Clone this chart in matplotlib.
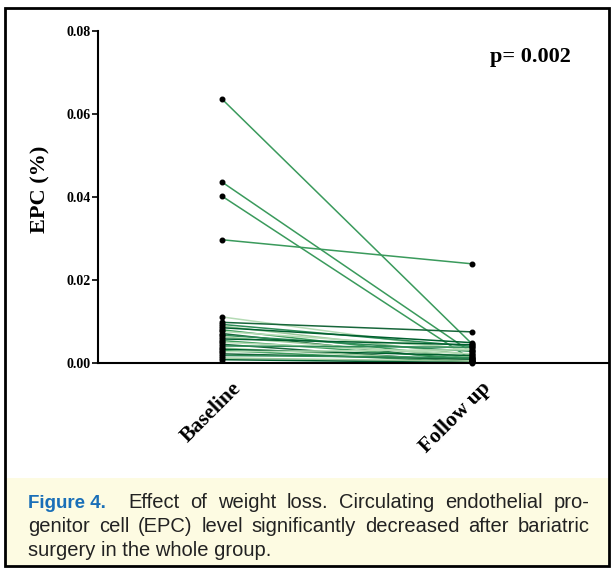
import matplotlib.pyplot as plt
from matplotlib.patches import Rectangle
from matplotlib.transforms import ScaledTranslation

# EPC values, one pair per patient
groups = ['Baseline', 'Follow up']
baseline = [0.0636, 0.0436, 0.0402, 0.0297, 0.0111, 0.0098, 0.0093, 0.0089,
            0.0085, 0.0080, 0.0076, 0.0071, 0.0067, 0.0063, 0.0058, 0.0054,
            0.0050, 0.0045, 0.0041, 0.0036, 0.0033, 0.0030, 0.0027, 0.0022,
            0.0018, 0.0012, 0.0008]
followup = [0.0046, 0.0025, 0.0008, 0.0239, 0.0030, 0.0075, 0.0040, 0.0020,
            0.0049, 0.0012, 0.0035, 0.0005, 0.0028, 0.0015, 0.0044, 0.0010,
            0.0022, 0.0003, 0.0038, 0.0006, 0.0018, 0.0002, 0.0032, 0.0009,
            0.0013, 0.0004, 0.0001]
yticks = [0.00, 0.02, 0.04, 0.06, 0.08]
greens = ['#2e8b57', '#9cc99c', '#005f2e', '#3d9c5c', '#b5dbb5', '#17663a']

caption_lines = [
    'Effect of weight loss. Circulating endothelial pro-',
    'genitor cell (EPC) level significantly decreased after bariatric',
    'surgery in the whole group.',
]

W, H = 613, 569
fig = plt.figure(figsize=(W / 100, H / 100), dpi=100)
renderer = fig.canvas.get_renderer()

# outer frame and cream caption box
fig.patches.append(Rectangle((5 / W, 3 / H), 604 / W, 558 / H, transform=fig.transFigure,
                             fill=False, edgecolor='black', linewidth=2))
fig.patches.append(Rectangle((6 / W, 4 / H), 602 / W, (569 - 478 - 4) / H,
                             transform=fig.transFigure, facecolor='#fdfbe2',
                             edgecolor='none', zorder=-1))

x0, x1 = 222, 472
ax = fig.add_axes([98 / W, (H - 363) / H, (608 - 98) / W, (363 - 31) / H])
ax.set_xlim(-(x0 - 98) / (x1 - x0), (608 - x0) / (x1 - x0))
ax.set_ylim(0, 0.08)

for i, (b, f) in enumerate(zip(baseline, followup)):
    c = '#3a9a5c' if b > 0.02 else greens[i % len(greens)]
    ax.plot([0, 1], [b, f], color=c, linewidth=1.1, zorder=2, clip_on=False)
ax.plot([0] * len(baseline), baseline, 'o', color='black', markersize=3.3,
        zorder=3, clip_on=False)
ax.plot([1] * len(followup), followup, 'o', color='black', markersize=3.3,
        zorder=3, clip_on=False)

for s in ['top', 'right']:
    ax.spines[s].set_visible(False)
ax.spines['left'].set_linewidth(1.5)
ax.spines['bottom'].set_linewidth(1.5)
ax.set_yticks(yticks)
ax.set_yticklabels(['%.2f' % v for v in yticks], fontfamily='Liberation Serif',
                   fontweight='bold', fontsize=10)
ax.tick_params(axis='y', length=4, width=1.2, pad=1)
ax.set_xticks([0, 1])
ax.set_xticklabels(groups, rotation=45, ha='right', rotation_mode='anchor',
                   fontfamily='Liberation Serif', fontweight='bold', fontsize=15.5)
ax.tick_params(axis='x', length=0, pad=11)
shift = ScaledTranslation(9 / 100, 0, fig.dpi_scale_trans)
for lab in ax.get_xticklabels():
    lab.set_transform(lab.get_transform() + shift)

fig.text(40 / W, 1 - 189 / H, 'EPC (%)', fontfamily='Liberation Serif',
         fontweight='bold', fontsize=16, rotation=90, ha='center', va='center')

fig.text(490 / W, 1 - 57 / H, 'p= 0.002', fontfamily='Liberation Serif',
         fontweight='bold', fontsize=16, va='center')


# caption, justified between two pixel positions
def justify(line, xs, xe, y, size):
    words = line.split()
    texts = [fig.text(0, 1 - y / H, w, fontfamily='Liberation Sans', fontsize=size,
                      va='center', color='#222222') for w in words]
    widths = [t.get_window_extent(renderer).width for t in texts]
    gap = (xe - xs - sum(widths)) / (len(words) - 1)
    x = xs
    for t, w in zip(texts, widths):
        t.set_x(x / W)
        x += w + gap


fig.text(28 / W, 1 - 503 / H, 'Figure 4.', color='#1a6fb8', fontweight='bold',
         fontfamily='Liberation Sans', fontsize=13.5, va='center')
justify(caption_lines[0], 128, 590, 503, 14.5)
justify(caption_lines[1], 28, 590, 527, 14.5)
fig.text(28 / W, 1 - 550 / H, caption_lines[2], fontfamily='Liberation Sans',
         fontsize=14.5, va='center', color='#222222')

fig.savefig('out.png', dpi=100)
